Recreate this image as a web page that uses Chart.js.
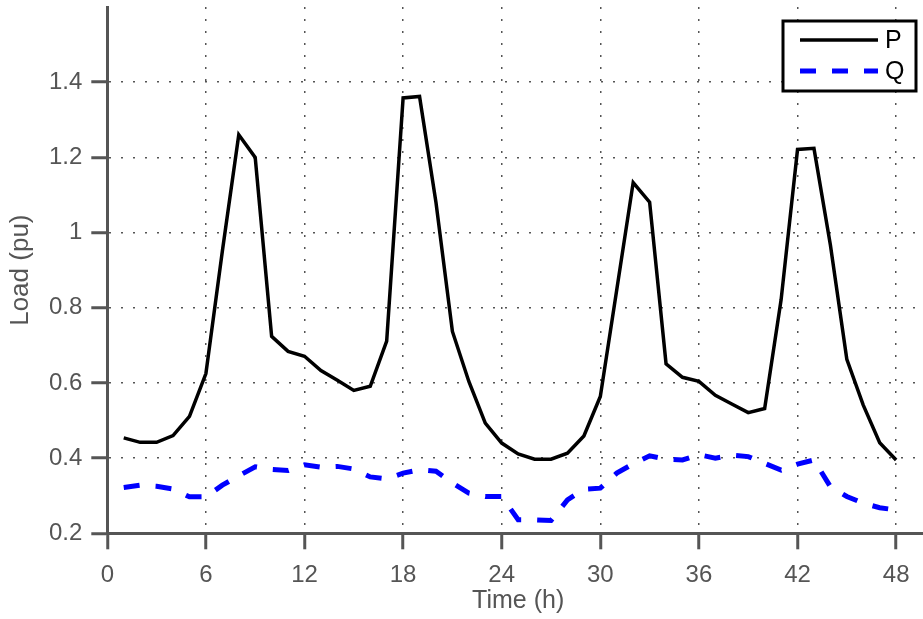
<!DOCTYPE html>
<html>
<head>
<meta charset="utf-8">
<script src="https://cdn.jsdelivr.net/npm/chart.js@4/dist/chart.umd.min.js"></script>
<style>
  html, body { margin: 0; padding: 0; background: #fff; overflow: hidden; }
  canvas { display: block; }
</style>
</head>
<body>
<canvas id="loadChart" width="929" height="619"></canvas>
<script>
// hourly load profile over two days
const hours = [1, 2, 3, 4, 5, 6, 7, 8, 9, 10, 11, 12, 13, 14, 15, 16, 17, 18, 19, 20, 21, 22, 23, 24,
               25, 26, 27, 28, 29, 30, 31, 32, 33, 34, 35, 36, 37, 38, 39, 40, 41, 42, 43, 44, 45, 46, 47, 48];
const activeLoad = [0.454, 0.442, 0.442, 0.460, 0.511, 0.625, 0.950, 1.260, 1.200, 0.724, 0.684, 0.671,
                    0.633, 0.607, 0.580, 0.591, 0.711, 1.358, 1.362, 1.080, 0.737, 0.604, 0.493, 0.440,
                    0.411, 0.397, 0.397, 0.413, 0.459, 0.564, 0.848, 1.133, 1.081, 0.651, 0.615, 0.604,
                    0.567, 0.544, 0.521, 0.532, 0.821, 1.221, 1.224, 0.967, 0.663, 0.541, 0.441, 0.395];
const reactiveLoad = [0.322, 0.328, 0.325, 0.318, 0.297, 0.297, 0.328, 0.353, 0.377, 0.370, 0.367, 0.382,
                      0.376, 0.378, 0.371, 0.350, 0.345, 0.360, 0.369, 0.365, 0.334, 0.307, 0.298, 0.298,
                      0.236, 0.236, 0.234, 0.289, 0.317, 0.320, 0.360, 0.385, 0.406, 0.397, 0.395, 0.409,
                      0.400, 0.408, 0.404, 0.386, 0.368, 0.384, 0.395, 0.324, 0.298, 0.280, 0.268, 0.262];
const seriesNames = ['P', 'Q'];
const xTicks = [0, 6, 12, 18, 24, 30, 36, 42, 48];
const yTicks = [0.2, 0.4, 0.6, 0.8, 1.0, 1.2, 1.4];
const yTickLabels = ['0.2', '0.4', '0.6', '0.8', '1', '1.2', '1.4'];

const axisGray = '#555555';
const fontFamily = "'Liberation Sans', Arial, Helvetica, sans-serif";

function toPoints(values) {
  return hours.map((h, i) => ({ x: h, y: values[i] }));
}

// boxed legend in the top right corner, drawn from the dataset styles
const boxedLegend = {
  id: 'boxedLegend',
  afterDraw(chart) {
    const ctx = chart.ctx;
    const box = { left: 783, top: 21, right: 916, bottom: 91 };
    ctx.save();
    ctx.fillStyle = '#fff';
    ctx.fillRect(box.left, box.top, box.right - box.left, box.bottom - box.top);
    ctx.lineWidth = 3;
    ctx.strokeStyle = '#000';
    ctx.strokeRect(box.left, box.top, box.right - box.left, box.bottom - box.top);
    const rows = [40, 71];
    chart.data.datasets.forEach((ds, i) => {
      const y = rows[i];
      ctx.beginPath();
      ctx.lineWidth = ds.borderWidth;
      ctx.strokeStyle = ds.borderColor;
      ctx.setLineDash(ds.borderDash || []);
      ctx.moveTo(800, y);
      ctx.lineTo(878, y);
      ctx.stroke();
      ctx.setLineDash([]);
      ctx.fillStyle = '#000';
      ctx.font = '25px ' + fontFamily;
      ctx.textAlign = 'left';
      ctx.textBaseline = 'middle';
      ctx.fillText(ds.label, 885, y + 1);
    });
    ctx.restore();
  }
};

const ctx = document.getElementById('loadChart').getContext('2d');
new Chart(ctx, {
  type: 'line',
  data: {
    datasets: [{
      label: seriesNames[0],
      data: toPoints(activeLoad),
      borderColor: '#000000',
      borderWidth: 3.5,
      pointRadius: 0,
      tension: 0
    }, {
      label: seriesNames[1],
      data: toPoints(reactiveLoad),
      borderColor: '#0000ff',
      borderWidth: 5,
      borderDash: [16, 16],
      pointRadius: 0,
      tension: 0
    }]
  },
  options: {
    responsive: false,
    animation: false,
    devicePixelRatio: 1,
    layout: { padding: { top: 7, right: 0, bottom: 0, left: 0 } },
    plugins: {
      legend: { display: false },
      tooltip: { enabled: false }
    },
    scales: {
      x: {
        type: 'linear',
        min: 0,
        max: 50,
        afterBuildTicks: scale => { scale.ticks = xTicks.map(v => ({ value: v })); },
        afterFit: scale => {
          scale.height = 85.7;
          scale.paddingLeft = 0;
          scale.paddingRight = 0;
        },
        ticks: {
          color: axisGray,
          padding: 12,
          maxRotation: 0,
          autoSkip: false,
          font: { family: fontFamily, size: 24 }
        },
        grid: {
          color: '#555',
          lineWidth: 1.5,
          tickLength: 16,
          tickWidth: 3,
          tickColor: axisGray
        },
        border: { color: axisGray, width: 3, dash: [2, 10] },
        title: {
          display: true,
          text: 'Time (h)',
          color: axisGray,
          padding: { top: 0, bottom: 3 },
          font: { family: fontFamily, size: 25 }
        }
      },
      y: {
        min: 0.2,
        max: 1.6,
        afterBuildTicks: scale => { scale.ticks = yTicks.map(v => ({ value: v })); },
        afterFit: scale => {
          scale.width = 107.3;
          scale.paddingTop = 0;
          scale.paddingBottom = 0;
        },
        ticks: {
          color: axisGray,
          padding: 9,
          autoSkip: false,
          font: { family: fontFamily, size: 24 },
          callback: (value, index) => yTickLabels[index]
        },
        grid: {
          color: '#555',
          lineWidth: 1.5,
          tickLength: 16,
          tickWidth: 3,
          tickColor: axisGray
        },
        border: { color: axisGray, width: 3, dash: [2, 10] },
        title: {
          display: true,
          text: 'Load (pu)',
          color: axisGray,
          padding: { top: 5, bottom: 0 },
          font: { family: fontFamily, size: 26 }
        }
      }
    }
  },
  plugins: [boxedLegend]
});
</script>
</body>
</html>
